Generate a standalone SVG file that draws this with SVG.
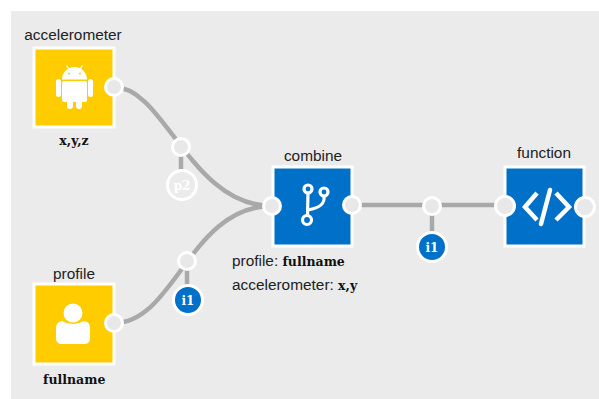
<svg xmlns="http://www.w3.org/2000/svg" width="599" height="399" viewBox="0 0 599 399">
<style>
.lb{font-family:"Liberation Sans",Arial,sans-serif;font-size:15.4px;fill:#222}
.mono{font-family:"DejaVu Serif",serif;font-size:12.5px;font-weight:700;fill:#111}
.box{stroke:#fff;stroke-width:3}
.port{fill:#e8e8e8;stroke:#fff;stroke-width:3}
.wire{fill:none;stroke:#a9a9a9;stroke-width:4.500}
.ic{fill:#fff}
.ics{fill:none;stroke:#fff;stroke-width:3.2;stroke-linecap:round;stroke-linejoin:round}
.pt{font-family:"DejaVu Serif",serif;font-size:12px;font-weight:700;text-anchor:middle}
</style>
<rect width="599" height="399" fill="#fff"/>
<rect x="11" y="11" width="588" height="388" fill="#ebebeb"/>
<g id="connectors">
<path class="wire" d="M114 87C165 87 190 206 272 206"/>
<path class="wire" d="M114 323C175 323 190 206 272 206"/>
<path class="wire" d="M352 205H505"/>
<path class="wire" d="M181 147V185"/>
<path class="wire" d="M187 261V300"/>
<path class="wire" d="M432 207V246"/>
</g>
<g id="accelerometer">
<rect class="box" x="34" y="48" width="80" height="79" fill="#ffcc00"/>
<text class="lb" x="73" y="40" text-anchor="middle">accelerometer</text>
<g>
<path class="ic" d="M62 79.500a12.500 12.500 0 0 1 25 0z"/>
<rect class="ic" x="62" y="81" width="25" height="21" rx="2"/>
<rect class="ic" x="56" y="79" width="5" height="18" rx="2.500"/>
<rect class="ic" x="88" y="79" width="5" height="18" rx="2.500"/>
<rect class="ic" x="67" y="98" width="6" height="11" rx="3"/>
<rect class="ic" x="76" y="98" width="6" height="11" rx="3"/>
<path d="M69.500 70l-3-4.500M79.500 70l3-4.500" stroke="#fff" stroke-width="1.300"/>
<circle cx="69" cy="73.500" r="1" fill="#ffcc00"/><circle cx="80" cy="73.500" r="1" fill="#ffcc00"/>
</g>
<circle class="port" cx="114" cy="87" r="8.500"/>
<text class="mono" x="74" y="145" text-anchor="middle">x,y,z</text>
</g>
<g id="profile">
<rect class="box" x="34" y="284" width="80" height="80" fill="#ffcc00"/>
<text class="lb" x="74" y="279" text-anchor="middle">profile</text>
<circle class="ic" cx="73" cy="313" r="9.500"/>
<path class="ic" d="M56 328Q56 322 62 321Q73 327 84 321Q90 322 90 328V338Q90 344 84 344H62Q56 344 56 338Z"/>
<circle class="port" cx="114" cy="323" r="8.500"/>
<text class="mono" x="43" y="384">fullname</text>
</g>
<g id="combine">
<rect class="box" x="273" y="167" width="79" height="79" fill="#0070c9"/>
<text class="lb" x="313" y="161" text-anchor="middle">combine</text>
<circle class="ics" cx="308" cy="189" r="4"/>
<circle class="ics" cx="324" cy="192" r="4"/>
<circle class="ics" cx="307" cy="220" r="4.500"/>
<path class="ics" d="M308 193L307.500 215M308 210C320 208 325 204 324 196"/>
<circle class="port" cx="272" cy="206" r="8.500"/>
<circle class="port" cx="352" cy="205" r="8.500"/>
<text class="lb" x="232" y="266">profile: <tspan class="mono">fullname</tspan></text>
<text class="lb" x="232" y="290">accelerometer: <tspan class="mono">x,y</tspan></text>
</g>
<g id="function">
<rect class="box" x="505" y="167" width="79" height="79" fill="#0070c9"/>
<text class="lb" x="544" y="158" text-anchor="middle">function</text>
<path d="M537 193L525 207L537 220M556 193L569 207L556 220" fill="none" stroke="#fff" stroke-width="4.500"/>
<path d="M550 190L541 224" fill="none" stroke="#fff" stroke-width="4.500" stroke-linecap="round"/>
<circle class="port" cx="505" cy="206" r="9.500"/>
<circle class="port" cx="585" cy="207" r="9.500"/>
</g>
<g id="wire-port-p2">
<circle class="port" cx="181" cy="147" r="8.500"/>
<circle cx="182" cy="185" r="14.500" fill="#ebebeb" stroke="#fff" stroke-width="3"/>
<text class="pt" x="182" y="189.500" fill="#fff">p2</text>
</g>
<g id="wire-port-i1-left">
<circle class="port" cx="187" cy="261" r="8.500"/>
<circle cx="188" cy="300" r="14.500" fill="#0070c9" stroke="#fff" stroke-width="3"/>
<text class="pt" x="188" y="304.500" fill="#fff">i1</text>
</g>
<g id="wire-port-i1-right">
<circle class="port" cx="432" cy="206" r="8.500"/>
<circle cx="432" cy="247" r="14.500" fill="#0070c9" stroke="#fff" stroke-width="3"/>
<text class="pt" x="432" y="251.500" fill="#fff">i1</text>
</g>
</svg>
